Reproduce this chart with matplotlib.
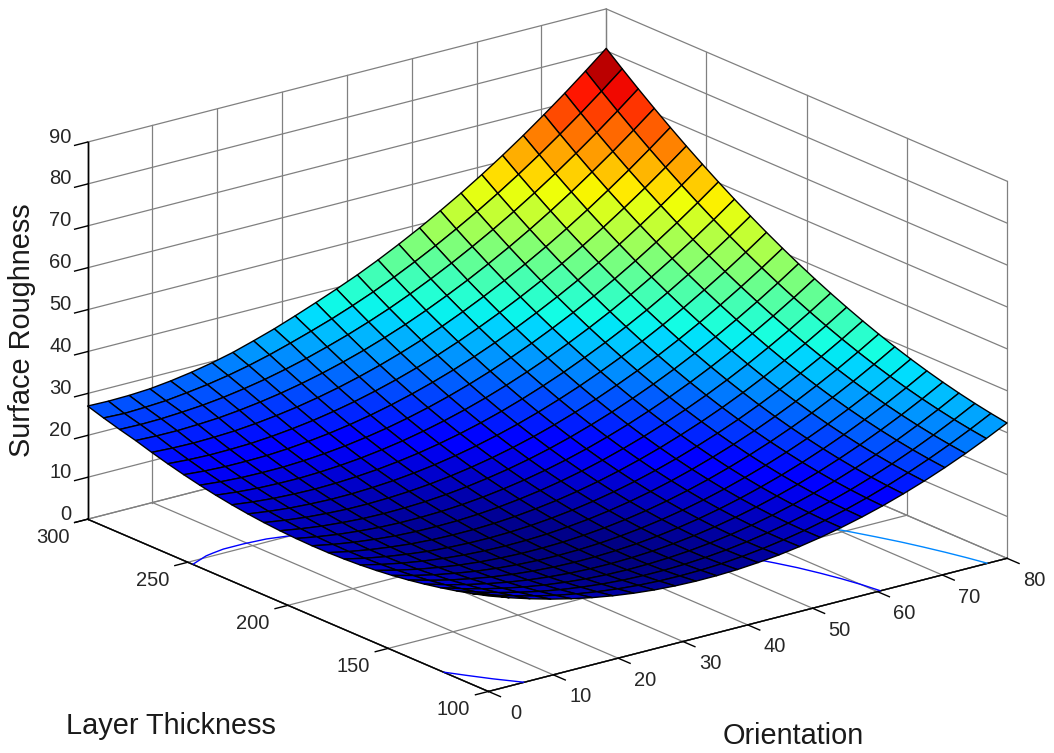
import numpy as np
import matplotlib
matplotlib.use("Agg")
import matplotlib.pyplot as plt
from mpl_toolkits.mplot3d import proj3d

plt.rcParams['font.family'] = ['Liberation Sans', 'DejaVu Sans']

orientation = [0,3.2,6.4,9.6,12.8,16,19.2,22.4,25.6,28.8,32,35.2,38.4,41.6,44.8,48,51.2,54.4,57.6,60.8,64,67.2,70.4,73.6,76.8,80]
thickness = [100,108,116,124,132,140,148,156,164,172,180,188,196,204,212,220,228,236,244,252,260,268,276,284,292,300]
roughness = [
[22.80,21.10,19.58,18.22,17.04,16.04,15.21,14.55,14.06,13.75,13.61,13.64,13.84,14.23,14.78,15.51,16.41,17.49,18.73,20.14,21.74,23.50,25.45,27.56,29.85,32.30],
[21.70,20.07,18.62,17.33,16.21,15.28,14.52,13.93,13.51,13.27,13.20,13.30,13.57,14.03,14.65,15.45,16.41,17.56,18.87,20.35,22.02,23.85,25.87,28.05,30.41,32.93],
[20.71,19.14,17.76,16.56,15.50,14.64,13.95,13.42,13.07,12.90,12.90,13.07,13.41,13.93,14.62,15.49,16.53,17.75,19.12,20.67,22.41,24.31,26.40,28.65,31.07,33.66],
[19.83,18.33,17.01,15.88,14.89,14.10,13.48,13.02,12.74,12.64,12.71,12.95,13.36,13.94,14.70,15.64,16.75,18.04,19.48,21.10,22.91,24.88,27.04,29.36,31.85,34.50],
[19.05,17.62,16.37,15.31,14.39,13.67,13.12,12.73,12.52,12.49,12.63,12.93,13.41,14.06,14.89,15.90,17.08,18.44,19.95,21.64,23.52,25.56,27.79,30.17,32.73,35.45],
[18.38,17.02,15.84,14.85,14.00,13.35,12.87,12.55,12.41,12.45,12.66,13.02,13.57,14.29,15.19,16.27,17.52,18.95,20.53,22.29,24.24,26.35,28.65,31.09,33.72,36.51],
[17.82,16.53,15.42,14.50,13.72,13.14,12.73,12.48,12.41,12.51,12.79,13.22,13.84,14.63,15.60,16.75,18.07,19.57,21.22,23.05,25.06,27.24,29.61,32.12,34.82,37.68],
[17.37,16.15,15.11,14.26,13.55,13.04,12.70,12.52,12.52,12.68,13.03,13.53,14.22,15.08,16.12,17.34,18.73,20.30,22.02,23.91,25.99,28.24,30.68,33.26,36.03,38.96],
[17.03,15.88,14.91,14.13,13.49,13.05,12.78,12.66,12.73,12.96,13.38,13.95,14.71,15.64,16.75,18.04,19.50,21.14,22.92,24.88,27.03,29.35,31.86,34.51,37.35,40.35],
[16.80,15.72,14.82,14.11,13.53,13.16,12.96,12.91,13.05,13.35,13.84,14.48,15.31,16.31,17.49,18.85,20.37,22.08,23.93,25.96,28.18,30.57,33.15,35.87,38.78,41.85],
[16.68,15.67,14.84,14.20,13.68,13.38,13.25,13.27,13.48,13.85,14.41,15.12,16.02,17.09,18.34,19.77,21.35,23.13,25.05,27.15,29.44,31.90,34.55,37.34,40.32,43.46],
[16.67,15.73,14.96,14.39,13.94,13.71,13.65,13.74,14.02,14.46,15.09,15.87,16.84,17.97,19.29,20.79,22.44,24.29,26.28,28.45,30.81,33.34,36.06,38.92,41.97,45.17],
[16.77,15.90,15.19,14.69,14.31,14.15,14.16,14.32,14.67,15.18,15.88,16.73,17.76,18.96,20.35,21.92,23.64,25.56,27.62,29.86,32.29,34.89,37.68,40.61,43.72,46.99],
[16.97,16.17,15.53,15.10,14.79,14.70,14.78,15.01,15.43,16.01,16.77,17.69,18.79,20.06,21.52,23.16,24.95,26.94,29.07,31.38,33.88,36.55,39.40,42.40,45.58,48.92],
[17.28,16.55,15.98,15.62,15.38,15.36,15.51,15.81,16.29,16.94,17.77,18.76,19.93,21.27,22.80,24.51,26.37,28.43,30.63,33.00,35.57,38.31,41.23,44.30,47.55,50.96],
[17.70,17.04,16.54,16.25,16.08,16.13,16.35,16.72,17.27,17.98,18.88,19.94,21.18,22.59,24.19,25.97,27.90,30.03,32.30,34.74,37.37,40.18,43.17,46.31,49.63,53.11],
[18.23,17.64,17.21,16.99,16.89,17.01,17.30,17.73,18.35,19.13,20.10,21.23,22.54,24.02,25.69,27.54,29.54,31.74,34.07,36.58,39.28,42.16,45.22,48.43,51.82,55.37],
[18.87,18.35,17.99,17.84,17.81,18.00,18.35,18.85,19.54,20.39,21.43,22.63,24.01,25.56,27.30,29.22,31.29,33.55,35.95,38.53,41.30,44.25,47.38,50.66,54.12,57.74],
[19.62,19.17,18.88,18.80,18.83,19.09,19.51,20.08,20.84,21.76,22.87,24.14,25.59,27.21,29.02,31.01,33.15,35.47,37.94,40.59,43.43,46.45,49.65,53.00,56.53,60.22],
[20.48,20.09,19.87,19.86,19.96,20.29,20.78,21.42,22.25,23.24,24.42,25.76,27.28,28.96,30.84,32.90,35.11,37.50,40.04,42.76,45.67,48.76,52.03,55.45,59.05,62.80],
[21.45,21.13,20.97,21.03,21.20,21.60,22.16,22.87,23.77,24.83,26.08,27.49,29.08,30.82,32.77,34.90,37.18,39.64,42.25,45.04,48.02,51.18,54.52,58.01,61.68,65.49],
[22.52,22.27,22.18,22.31,22.55,23.02,23.65,24.43,25.40,26.53,27.85,29.32,30.98,32.79,34.81,37.01,39.36,41.89,44.57,47.43,50.48,53.71,57.12,60.67,64.41,68.29],
[23.70,23.52,23.50,23.70,24.01,24.55,25.25,26.10,27.14,28.34,29.72,31.26,32.99,34.87,36.96,39.23,41.65,44.25,47.00,49.93,53.05,56.34,59.82,63.44,67.25,71.20],
[24.70,24.60,24.70,25.00,25.40,26.00,26.80,27.75,28.90,30.20,31.70,33.31,35.11,37.06,39.22,41.56,44.05,46.72,49.54,52.54,55.73,59.08,62.63,66.32,70.20,74.22],
[25.80,25.60,25.80,26.10,26.70,27.40,28.30,29.40,30.70,32.20,33.79,35.47,37.34,39.36,41.59,44.00,46.56,49.30,52.18,55.25,58.51,61.93,65.55,69.31,73.26,77.35],
[27.00,26.90,27.00,27.30,27.90,28.70,29.70,30.90,32.40,34.00,35.80,37.70,39.68,41.77,44.07,46.55,49.18,51.99,54.93,58.07,61.40,64.89,68.58,72.41,76.43,80.59],
]
x_ticks = [0,10,20,30,40,50,60,70,80]
y_ticks = [100,150,200,250,300]
z_ticks = [0,10,20,30,40,50,60,70,80,90]
contour_levels = [10,20,30,40,50,60,70,80]

W, H = 1054, 753
fig = plt.figure(figsize=(W/100, H/100), dpi=100, facecolor='white')
side = 1000
cx, cy = 533.8, 363.7
ax = fig.add_axes([(cx-side/2)/W, 1-(cy+side/2)/H, side/W, side/H],
                  projection='3d', proj_type='ortho', computed_zorder=False)
ax.set_box_aspect((1, 1, 0.61), zoom=0.98)
ax.view_init(elev=19.4, azim=-127.7)
ax.patch.set_alpha(0)

x0, x1 = x_ticks[0], x_ticks[-1]
y0, y1 = y_ticks[0], y_ticks[-1]
z0, z1 = z_ticks[0], z_ticks[-1]
grid_style = dict(color='#808080', linewidth=0.9, zorder=0)
tick_style = dict(color='black', linewidth=1.0, zorder=0.5)

# walls at the far sides, floor, and short outward tick marks
for v in x_ticks:
    ax.plot([v, v], [y0, y1], [z0, z0], **grid_style)
    ax.plot([v, v], [y1, y1], [z0, z1], **grid_style)
    ax.plot([v, v], [y0, y0 - 6], [z0, z0], **tick_style)
for v in y_ticks:
    ax.plot([x0, x1], [v, v], [z0, z0], **grid_style)
    ax.plot([x1, x1], [v, v], [z0, z1], **grid_style)
    ax.plot([x0, x0 - 2], [v, v], [z0, z0], **tick_style)
for v in z_ticks:
    ax.plot([x0, x1], [y1, y1], [v, v], **grid_style)
    ax.plot([x1, x1], [y0, y1], [v, v], **grid_style)
    ax.plot([x0, x0 - 2], [y1, y1], [v, v], **tick_style)
# the three black axis lines
ax.plot([x0, x1], [y0, y0], [z0, z0], **tick_style)
ax.plot([x0, x0], [y0, y1], [z0, z0], **tick_style)
ax.plot([x0, x0], [y1, y1], [z0, z1], **tick_style)

X, Y = np.meshgrid(orientation, thickness)
Z = np.array(roughness)
vmin, vmax = Z.min(), Z.max()

ax.contour(X, Y, Z, levels=contour_levels, zdir='z', offset=0, cmap='jet',
           vmin=vmin, vmax=vmax, linewidths=1.0, zorder=1)
ax.plot_surface(X, Y, Z, rstride=1, cstride=1, cmap='jet', vmin=vmin, vmax=vmax,
                edgecolor='black', linewidth=1.0, shade=False, antialiased=True, zorder=3)

ax.set_xlim(x0, x1); ax.set_ylim(y0, y1); ax.set_zlim(z0, z1)
ax.set_xticks([]); ax.set_yticks([]); ax.set_zticks([])
for axis in (ax.xaxis, ax.yaxis, ax.zaxis):
    axis.set_pane_color((1, 1, 1, 0))
    axis.pane.set_edgecolor('#909090')
    axis.line.set_color('black')
    axis.line.set_linewidth(1.0)

# Tick labels are plain figure texts placed through the 3D projection.
fig.canvas.draw()
proj = ax.get_proj()
def tick_label(x, y, z, s, ha):
    px, py, _ = proj3d.proj_transform(x, y, z, proj)
    fx, fy = fig.transFigure.inverted().transform(ax.transData.transform((px, py)))
    fig.text(fx, fy, s, ha=ha, va='center', fontsize=14.5, color='#262626')

for v in x_ticks:
    tick_label(v, 86.5, -2.5, str(v), 'center')
for v in y_ticks:
    tick_label(-5.4, v, -2.2, str(v), 'center')
for v in z_ticks:
    tick_label(-2.5, 300, v + 2.2, str(v), 'right')

fig.text(22/W, 1-330/H, 'Surface Roughness', rotation=90, fontsize=20.8, ha='center', va='center', color='#1a1a1a')
fig.text(171/W, 1-726/H, 'Layer Thickness', fontsize=20.8, ha='center', va='center', color='#1a1a1a')
fig.text(793/W, 1-736/H, 'Orientation', fontsize=20.8, ha='center', va='center', color='#1a1a1a')

fig.savefig('out.png', dpi=100, facecolor='white')
